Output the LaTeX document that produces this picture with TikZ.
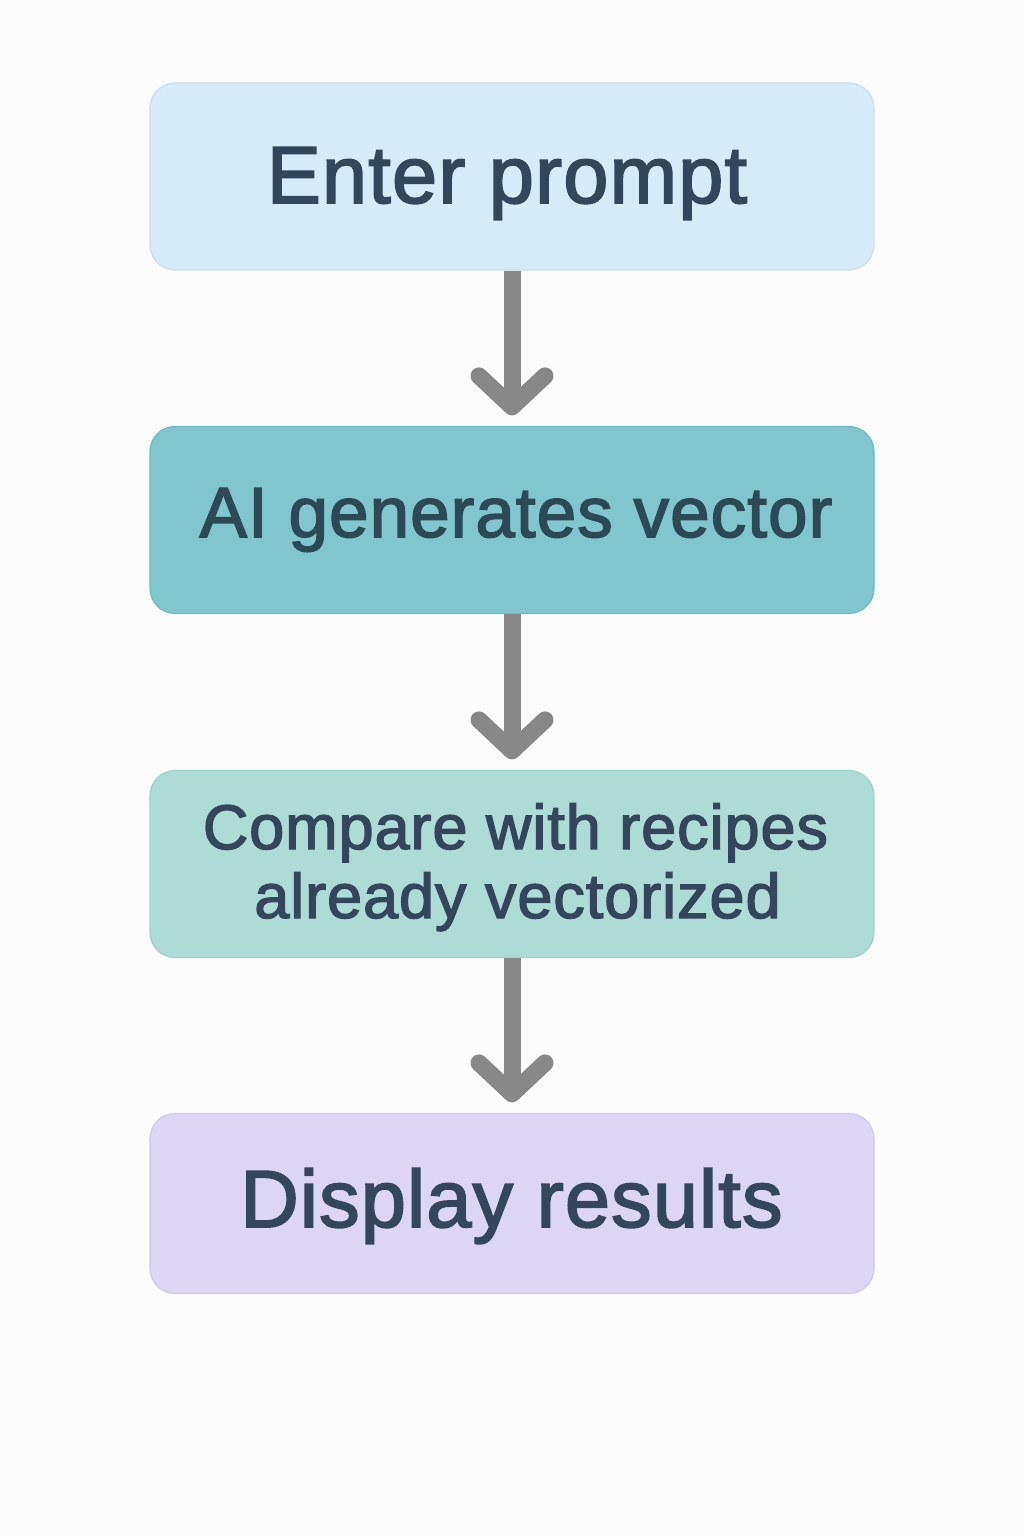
\documentclass[tikz,border=0pt]{standalone}
\usepackage{fontspec}
\setmainfont{Liberation Sans}[FakeBold=2.2, LetterSpace=1.5]
\usetikzlibrary{calc}

\definecolor{bgcol}{HTML}{FCFCFC}
\definecolor{fillA}{HTML}{D6EAF8}
\definecolor{edgeA}{HTML}{C8E0F2}
\definecolor{fillB}{HTML}{80C6CC}
\definecolor{edgeB}{HTML}{6FBBC1}
\definecolor{fillC}{HTML}{ADDCD6}
\definecolor{edgeC}{HTML}{9CD2CB}
\definecolor{fillD}{HTML}{DDD6F3}
\definecolor{edgeD}{HTML}{D0C8EE}
\definecolor{inkcol}{HTML}{34475A}
\definecolor{inkteal}{HTML}{2C4A56}
\definecolor{arrowcol}{HTML}{888888}

\tikzset{
  stepbox/.style={rectangle, rounded corners=12.5pt, line width=0.6pt,
    minimum width=362pt, minimum height=93.5pt, inner sep=0pt},
  steptext/.style={anchor=base, inner sep=0pt, text=inkcol},
  shaft/.style={draw=arrowcol, line width=8.5pt},
  chevron/.style={draw=arrowcol, line width=8.5pt, line cap=round, line join=round},
}

\begin{document}
\begin{tikzpicture}[x=0.5pt, y=-0.5pt]
  % page and background
  \fill[bgcol] (0,0) rectangle (1024,1536);
  \useasboundingbox (0,0) rectangle (1024,1536);

  % step boxes
  \node[stepbox, fill=fillA, draw=edgeA] (b1) at (512,176.5) {};
  \node[stepbox, fill=fillB, draw=edgeB] (b2) at (512,520) {};
  \node[stepbox, fill=fillC, draw=edgeC] (b3) at (512,864) {};
  \node[stepbox, fill=fillD, draw=edgeD, minimum height=90pt] (b4) at (512,1203.5) {};

  % labels
  \node[steptext, font=\fontsize{40.5pt}{48pt}\selectfont] (l1) at (507,203) {Enter prompt};
  \node[steptext, text=inkteal, font=\fontsize{35.5pt}{42pt}\selectfont] (l2) at (516,537) {AI generates vector};
  \node[steptext, font=\fontsize{31.5pt}{38pt}\selectfont] (l3a) at (515.5,849) {Compare with recipes};
  \node[steptext, font=\fontsize{31.5pt}{38pt}\selectfont] (l3b) at (517.5,918) {already vectorized};
  \node[steptext, font=\fontsize{40.5pt}{48pt}\selectfont] (l4) at (511.5,1227) {Display results};

  % arrow tips, just above each following box
  \coordinate (t1) at ($(b2.north)+(0,-19)$);
  \coordinate (t2) at ($(b3.north)+(0,-19)$);
  \coordinate (t3) at ($(b4.north)+(0,-19)$);

  % connectors: shaft plus open chevron head
  \foreach \src/\tip in {b1/t1, b2/t2, b3/t3} {
    \draw[shaft] (\src.south) -- (\tip);
    \draw[chevron] ($(\tip)+(-33,-31)$) -- (\tip) -- ($(\tip)+(33,-31)$);
  }
\end{tikzpicture}
\end{document}
